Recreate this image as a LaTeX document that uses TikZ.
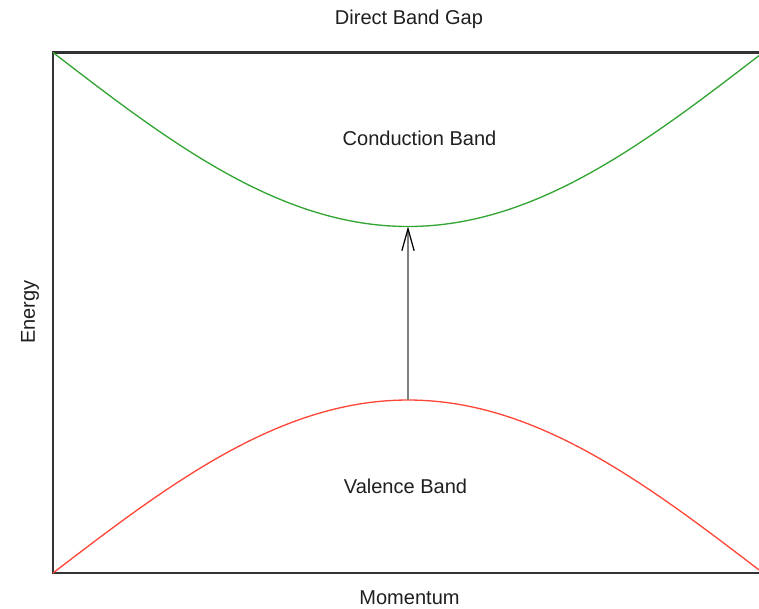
\documentclass[tikz,border=0pt]{standalone}
\usepackage{fontspec}
\setmainfont{Liberation Sans}
\usetikzlibrary{arrows.meta}
\definecolor{cband}{RGB}{50,165,50}
\definecolor{vband}{RGB}{255,70,55}
\definecolor{framec}{RGB}{51,51,51}
\definecolor{shaftc}{RGB}{128,128,128}
\begin{document}
\begin{tikzpicture}[x=0.02cm,y=-0.02cm,
  lbl/.style={font=\fontsize{11.4}{13}\selectfont, text=black!88, inner sep=0pt},
  bandline/.style={line width=0.75pt},
  framebox/.style={draw=framec, line width=1.15pt},
  gaparrow/.style={draw=shaftc, line width=1.1pt,
    -{Straight Barb[black, length=12.5pt, width=7pt, line width=0.7pt]}}]
\clip (0,0) rectangle (759,608);
\fill[white] (0,0) rectangle (759,608);
\draw[framebox] (53,52.5) rectangle (775,573);
\draw[cband, bandline, domain=53:759, samples=120]
  plot (\x, {226.5-174*(1-cos((\x-408)/355*90))});
\draw[vband, bandline, domain=53:759, samples=120]
  plot (\x, {400+173*(1-cos((\x-408)/355*90))});
\coordinate (vtop) at (408,400);
\coordinate (cbot) at (408,226.5);
\draw[gaparrow] (vtop) -- (cbot);
\node[lbl, anchor=base] (title) at (409,25) {Direct Band Gap};
\node[lbl, anchor=base] (cb) at (419.5,145) {Conduction Band};
\node[lbl, anchor=base] (vb) at (405.5,493) {Valence Band};
\node[lbl, anchor=base] (mom) at (409.5,604) {Momentum};
\node[lbl, rotate=90] (en) at (30,312) {Energy};
\end{tikzpicture}
\end{document}
